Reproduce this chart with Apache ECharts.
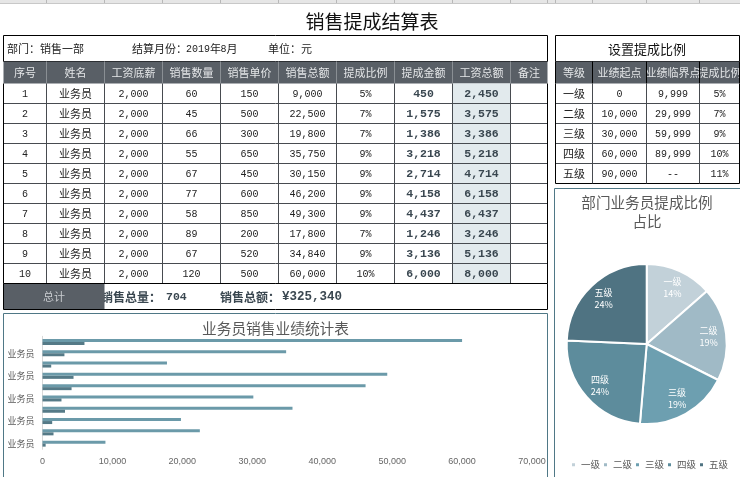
<!DOCTYPE html>
<html>
<head>
<meta charset="utf-8">
<style>html,body{margin:0;padding:0;background:#fff}#c{width:740px;height:477px}</style>
<script src="https://cdn.jsdelivr.net/npm/echarts@6/dist/echarts.min.js"></script>
</head>
<body>
<div id="c"></div>
<script>
// ---- data ----
const mainHeaders = ['序号','姓名','工资底薪','销售数量','销售单价','销售总额','提成比例','提成金额','工资总额','备注'];
const rowNumbers = [1,2,3,4,5,6,7,8,9,10];
const staffNames = ['业务员','业务员','业务员','业务员','业务员','业务员','业务员','业务员','业务员','业务员'];
const baseSalary = [2000,2000,2000,2000,2000,2000,2000,2000,2000,2000];
const salesQty = [60,45,66,55,67,77,58,89,67,120];
const unitPrice = [150,500,300,650,450,600,850,200,520,500];
const salesTotal = [9000,22500,19800,35750,30150,46200,49300,17800,34840,60000];
const commissionRate = ['5%','7%','7%','9%','9%','9%','9%','7%','9%','10%'];
const commission = [450,1575,1386,3218,2714,4158,4437,1246,3136,6000];
const wageTotal = [2450,3575,3386,5218,4714,6158,6437,3246,5136,8000];
const gradeHeaders = ['等级','业绩起点','业绩临界点','提成比例'];
const gradeNames = ['一级','二级','三级','四级','五级'];
const gradeStart = ['0','10,000','30,000','60,000','90,000'];
const gradeEnd = ['9,999','29,999','59,999','89,999','--'];
const gradeRate = ['5%','7%','9%','10%','11%'];
const pieValues = [5,7,7,9,9];
const totalQtyText = '704';
const totalAmountText = '¥325,340';

// ---- layout ----
const CJK = '"Noto Sans CJK SC"';
const MONO = '"Liberation Mono"';
const colX = [3.5,46.5,104.5,162.5,220.5,278.5,336.5,394.5,452.5,510.5,547.5];
const rowY0 = 83.5, rowH = 20;
const gradeX = [555.5,592.5,646.5,699.5,739.5];
const fmt = v => v.toLocaleString('en-US');
const g = [];
const rect = (x,y,w,h,fill,stroke,lw) => g.push({type:'rect',shape:{x,y,width:w,height:h},style:{fill:fill||'none',stroke:stroke||'none',lineWidth:lw||1},silent:true});
const line = (x1,y1,x2,y2,c,lw) => g.push({type:'line',shape:{x1,y1,x2,y2},style:{stroke:c,lineWidth:lw||1},silent:true});
const text = (t,x,y,o) => { o=o||{}; g.push({type:'text',x,y,silent:true,style:{text:t,fontSize:o.s||11,fontFamily:o.f||CJK,fontWeight:o.w||'normal',fill:o.c||'#222',align:o.a||'center',verticalAlign:'middle',textAlign:o.a||'center',textVerticalAlign:'middle'}}); };
const GRID = '#474b50', HEAD = '#595f66', HEADTXT = '#e4e6e8';

// spreadsheet column strip at the very top
rect(0,0,740,3,'#e6e6e6');
line(0,3.5,740,3.5,'#c8c8c8');
[46.5,104.5,162.5,220.5,278.5,336.5,394.5,452.5,510.5,547.5,555.5,592.5,646.5,699.5].forEach(x=>line(x,0,x,3,'#b8b8b8'));

// main title
text('销售提成结算表',372,22,{s:19,c:'#111'});

// info row
rect(3.5,35.5,544,26,'#fff','#000');
text('部门：销售一部',7,49,{a:'left'});
text('结算月份：',132,49,{a:'left'});
text('2019',186,49,{a:'left',f:MONO,s:10});
text('年',210,49,{a:'left'});
text('8',220.5,49,{a:'left',f:MONO,s:10});
text('月',226.5,49,{a:'left'});
text('单位：元',268,49,{a:'left'});

// main table header
rect(3.5,61.5,544,22,HEAD);
mainHeaders.forEach((h,i)=>text(h,(colX[i]+colX[i+1])/2,73,{c:HEADTXT}));
colX.slice(1,-1).forEach(x=>line(x,61.5,x,83.5,'#8a8f94'));

// wage column shading
rect(colX[8],rowY0,colX[9]-colX[8],200,'#e2eaed');

// main table rows
rowNumbers.forEach((n,i)=>{
  const y = rowY0 + rowH*i + 10.5;
  const cx = k => (colX[k]+colX[k+1])/2;
  text(String(n),cx(0),y,{f:MONO,s:10});
  text(staffNames[i],cx(1),y);
  text(fmt(baseSalary[i]),cx(2),y,{f:MONO,s:10});
  text(fmt(salesQty[i]),cx(3),y,{f:MONO,s:10});
  text(fmt(unitPrice[i]),cx(4),y,{f:MONO,s:10});
  text(fmt(salesTotal[i]),cx(5),y,{f:MONO,s:10});
  text(commissionRate[i],cx(6),y,{f:MONO,s:10});
  text(fmt(commission[i]),cx(7),y,{f:MONO,s:11.5,w:'bold',c:'#3a4750'});
  text(fmt(wageTotal[i]),cx(8),y,{f:MONO,s:11.5,w:'bold',c:'#3a4750'});
  line(3.5,rowY0+rowH*(i+1),547.5,rowY0+rowH*(i+1),i===9?'#000':GRID);
});
colX.forEach((x,i)=>line(x,rowY0,x,283.5,(i===0||i===10)?'#000':GRID));

// total row
rect(3.5,283.5,544,26,'#fff','#000');
text('销售总量：',101,297,{a:'left',s:12,w:'bold',c:'#3a4750'});
text(totalQtyText,166,297,{a:'left',f:MONO,s:11.5,w:'bold',c:'#3a4750'});
text('销售总额：',220,297,{a:'left',s:12,w:'bold',c:'#3a4750'});
text(totalAmountText,282,297,{a:'left',f:MONO,s:12.5,w:'bold',c:'#3a4750'});
rect(4,284,100.5,25,HEAD);
text('总计',54,297,{c:'#c9ccd0'});

// grade table
rect(555.5,35.5,184,26,'#fff','#000');
text('设置提成比例',647,49,{s:13,c:'#111'});
rect(555.5,61.5,184,22,HEAD);
gradeHeaders.forEach((h,i)=>text(h,(gradeX[i]+gradeX[i+1])/2,73,{c:HEADTXT}));
gradeX.forEach(x=>line(x,61.5,x,83.5,'#000'));
gradeNames.forEach((n,i)=>{
  const y = rowY0 + rowH*i + 10.5;
  const cx = k => (gradeX[k]+gradeX[k+1])/2;
  text(n,cx(0),y);
  text(gradeStart[i],cx(1),y,{f:MONO,s:10});
  text(gradeEnd[i],cx(2),y,{f:MONO,s:10});
  text(gradeRate[i],cx(3),y,{f:MONO,s:10});
  line(555.5,rowY0+rowH*(i+1),739.5,rowY0+rowH*(i+1),i===4?'#000':GRID);
});
gradeX.forEach((x,i)=>line(x,rowY0,x,183.5,(i===0||i===4)?'#000':GRID));

// chart frames
rect(3.5,313.5,544,170,'none','#4f7886');
rect(554.5,188.5,190,300,'none','#4f7886');

const pieCx = 646.7, pieCy = 344, pieR = 80;
const chart = echarts.init(document.getElementById('c'),null,{renderer:'canvas',width:740,height:477});
chart.setOption({
  animation:false,
  backgroundColor:'#fff',
  graphic:{elements:g},
  title:[
    {text:'业务员销售业绩统计表',left:275.5,top:321,padding:0,textAlign:'center',textStyle:{fontFamily:CJK,fontSize:14.7,fontWeight:'normal',color:'#595959'}},
    {text:'部门业务员提成比例\n占比',left:647,top:193,padding:0,textAlign:'center',textStyle:{fontFamily:CJK,fontSize:14.6,fontWeight:'normal',color:'#595959',lineHeight:19}}
  ],
  grid:{left:42.5,top:336.3,width:489.5,height:113,containLabel:false},
  xAxis:{type:'value',min:0,max:70000,interval:10000,
    axisLine:{show:false},axisTick:{show:false},splitLine:{show:false},
    axisLabel:{margin:8,fontFamily:'"Liberation Sans"',fontSize:9,color:'#666',
      formatter:v=>v.toLocaleString('en-US')}},
  yAxis:{type:'category',data:staffNames,
    axisLine:{show:true,lineStyle:{color:'#d9d9d9'}},axisTick:{show:false},
    axisLabel:{interval:1,margin:8,fontFamily:CJK,fontSize:9,color:'#595959'}},
  legend:{data:gradeNames,left:570,top:460,width:169,padding:0,itemWidth:5,itemHeight:5,itemGap:2,icon:'rect',
    textStyle:{fontFamily:CJK,fontSize:9.5,color:'#595959'}},
  series:[
    {name:'销售总额',type:'bar',data:salesTotal,barWidth:3,barGap:0,itemStyle:{color:'#6b9aa9'}},
    {name:'提成金额',type:'bar',data:commission,barWidth:3,barGap:0,itemStyle:{color:'#557a87'}},
    {type:'pie',center:[pieCx,pieCy],radius:[0,pieR],startAngle:90,clockwise:true,
      percentPrecision:0,
      data:gradeNames.map((n,i)=>({name:n,value:pieValues[i]})),
      color:['#c2d1d9','#a0bac6','#6d9fb0','#5d8c9c','#4f7382'],
      itemStyle:{borderColor:'#fff',borderWidth:2},
      label:{show:true,position:'inside',formatter:'{b}\n{d}%',fontFamily:CJK,fontSize:9,lineHeight:12,color:'#fff'},
      labelLine:{show:false},
      emphasis:{disabled:true},
      labelLayout:p=>{
        const r=p.labelRect, lx=r.x+r.width/2, ly=r.y+r.height/2;
        return {dx:(lx-pieCx)*0.45,dy:(ly-pieCy)*0.45};
      }}
  ]
});
</script>
</body>
</html>
